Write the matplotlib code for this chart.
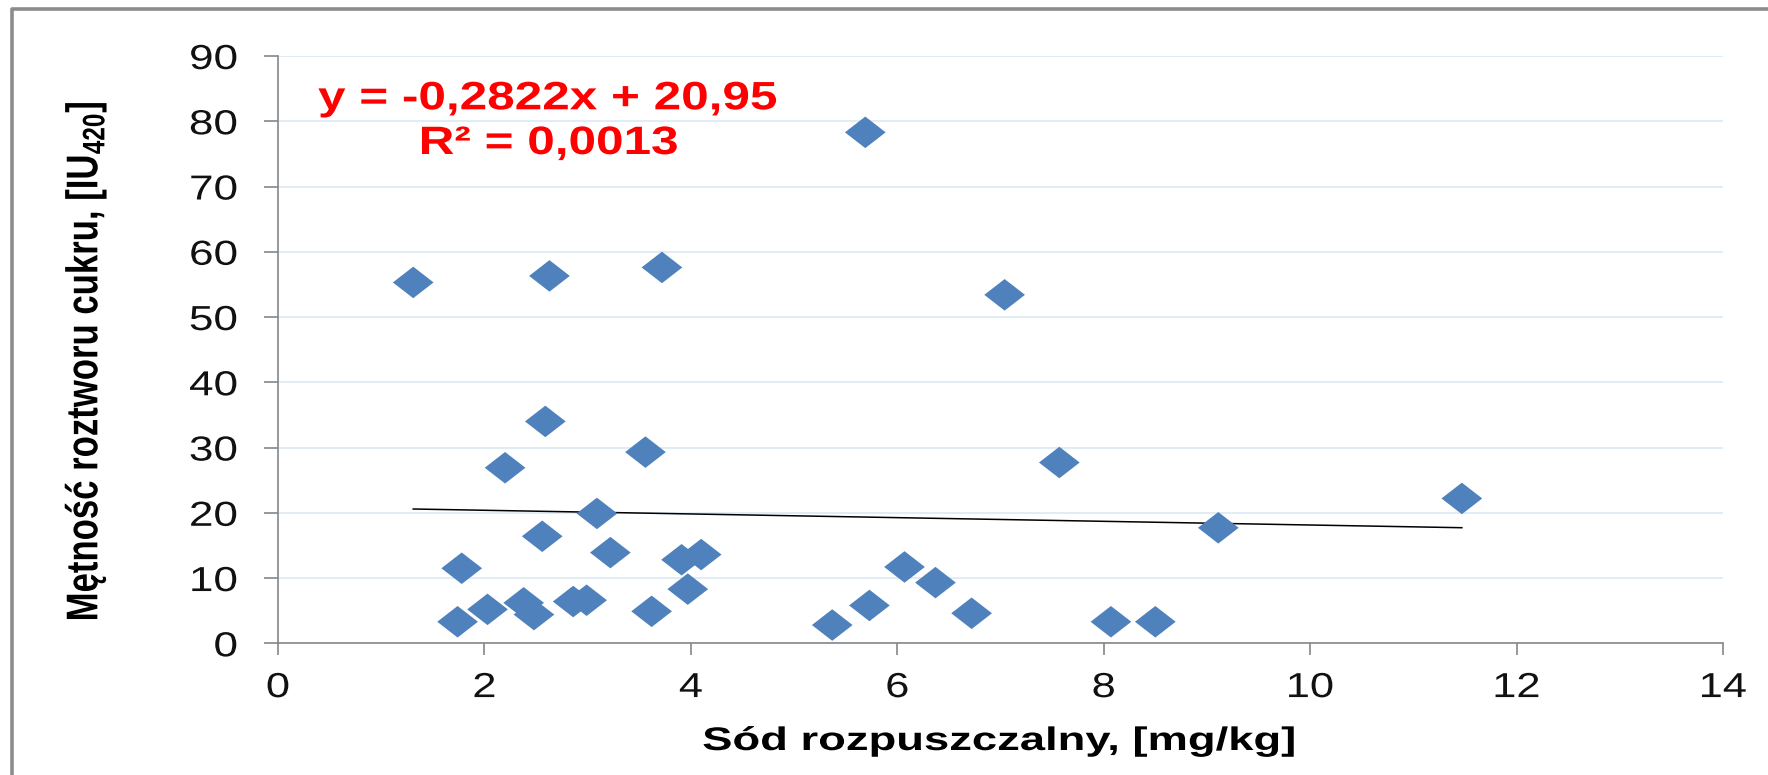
import matplotlib
matplotlib.use("Agg")
import matplotlib.pyplot as plt
from matplotlib.lines import Line2D
from matplotlib.path import Path
from matplotlib.patheffects import AbstractPathEffect
from matplotlib.transforms import Affine2D

# data
sod = [1.31, 1.74, 1.78, 2.03, 2.20, 2.38, 2.48, 2.56, 2.59, 2.63,
       2.86, 2.99, 3.09, 3.22, 3.56, 3.62, 3.72, 3.91, 3.97, 4.10,
       5.37, 5.69, 5.73, 6.07, 6.37, 6.72, 7.04, 7.57, 8.07, 8.50,
       9.11, 11.47]
metnosc = [55.3, 3.3, 11.5, 5.2, 26.9, 6.2, 4.4, 16.4, 34.0, 56.3,
           6.4, 6.6, 19.9, 13.9, 29.3, 4.9, 57.6, 12.8, 8.3, 13.6,
           2.8, 78.3, 5.8, 11.7, 9.3, 4.6, 53.4, 27.7, 3.3, 3.3,
           17.7, 22.2]
slope = -0.2822
intercept = 20.95
eq_line1 = "y = -0,2822x + 20,95"
eq_line2 = "R² = 0,0013"
x_ticks = [0, 2, 4, 6, 8, 10, 12, 14]
y_ticks = [0, 10, 20, 30, 40, 50, 60, 70, 80, 90]

W, H = 1768, 775


class StretchX(AbstractPathEffect):
    """Widen text horizontally (the source picture is stretched)."""

    def __init__(self, sx, anchor="center"):
        super().__init__()
        self.sx = sx
        self.anchor = anchor

    def draw_path(self, renderer, gc, tpath, affine, rgbFace=None):
        ext = tpath.get_extents(affine)
        if self.anchor == "left":
            a = ext.x0
        elif self.anchor == "right":
            a = ext.x1
        else:
            a = (ext.x0 + ext.x1) / 2
        t = affine + Affine2D().translate(-a, 0).scale(self.sx, 1).translate(a, 0)
        renderer.draw_path(gc, tpath, t, rgbFace)


plt.rcParams["font.family"] = ["Liberation Sans", "DejaVu Sans"]
plt.rcParams["mathtext.fontset"] = "custom"
plt.rcParams["mathtext.rm"] = "Liberation Sans"
plt.rcParams["mathtext.it"] = "Liberation Sans:italic"
plt.rcParams["mathtext.bf"] = "Liberation Sans:bold"

fig = plt.figure(figsize=(W / 100, H / 100), dpi=100)
ax = fig.add_axes([278 / W, (H - 643.3) / H, 1445 / W, 587.3 / H])

# wide diamond marker
diamond = Path([(-1, 0), (0, 0.775), (1, 0), (0, -0.775), (-1, 0)],
               [Path.MOVETO, Path.LINETO, Path.LINETO, Path.LINETO, Path.CLOSEPOLY])

ax.scatter(sod, metnosc, marker=diamond, s=29.3 ** 2, color="#4F81BD",
           edgecolors="none", zorder=3)

xs = [min(sod), max(sod)]
ax.plot(xs, [slope * v + intercept for v in xs], color="black", lw=1.1, zorder=2)

ax.set_xlim(0, 14)
ax.set_ylim(0, 90)
ax.set_xticks(x_ticks)
ax.set_yticks(y_ticks)
ax.grid(axis="y", color="#DAEAF5", lw=1.2)
ax.set_axisbelow(True)

for s in ["top", "right"]:
    ax.spines[s].set_visible(False)
for s in ["left", "bottom"]:
    ax.spines[s].set_color("#868686")
    ax.spines[s].set_linewidth(1.2)

ax.tick_params(axis="y", direction="out", length=10, width=1.2, color="#868686",
               pad=19, labelsize=25, labelcolor="#111111")
ax.tick_params(axis="x", direction="out", length=8.5, width=1.2, color="#868686",
               pad=11.5, labelsize=25, labelcolor="#111111")

ax.set_xlabel("Sód rozpuszczalny, [mg/kg]", fontsize=23.5, fontweight="bold",
              va="baseline", path_effects=[StretchX(1.39)])
ax.xaxis.set_label_coords(0.499, (643.3 - 750) / 587.3)

ax.set_ylabel(r"Mętność roztworu cukru, [IU$_{\mathbf{420}}$]", fontsize=25,
              fontweight="bold", va="baseline", rotation_mode="anchor",
              path_effects=[StretchX(1.28)])
ax.yaxis.set_label_coords((95 - 278) / 1445, (643.3 - 361) / 587.3)

fig.text(548 / W, 1 - 109.3 / H, eq_line1, color="red", fontsize=28.5,
         fontweight="bold", ha="center", va="baseline",
         path_effects=[StretchX(1.25)])
fig.text(549 / W, 1 - 154 / H, eq_line2, color="red", fontsize=28.5,
         fontweight="bold", ha="center", va="baseline",
         path_effects=[StretchX(1.25)])

for lbl in ax.get_yticklabels():
    lbl.set_path_effects([StretchX(1.27, "right")])
for lbl in ax.get_xticklabels():
    lbl.set_path_effects([StretchX(1.25)])

# outer chart frame (only left and top edges are inside the picture)
fig.add_artist(Line2D([11.5 / W, 11.5 / W, 1], [0, 1 - 8.5 / H, 1 - 8.5 / H],
                      transform=fig.transFigure, color="#8C8C8C", lw=2.6))

fig.savefig("out.png", dpi=100)
